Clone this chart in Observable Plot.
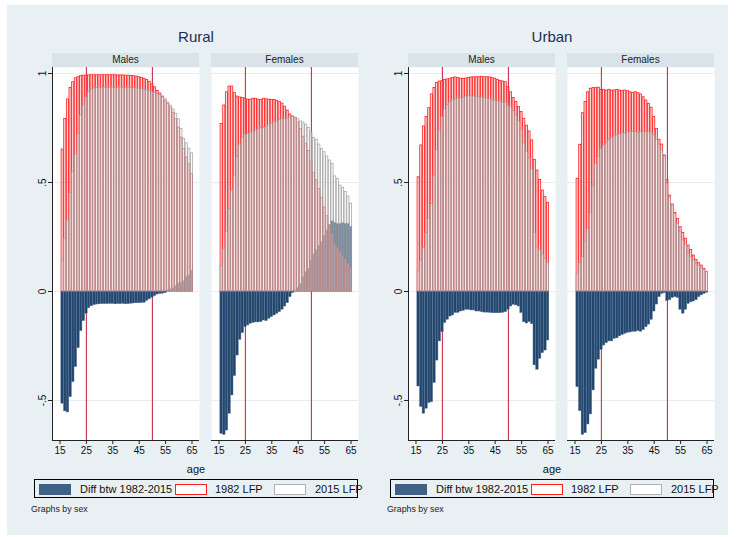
<!DOCTYPE html>
<html><head><meta charset="utf-8">
<script src="https://cdn.jsdelivr.net/npm/d3@7"></script>
<script src="https://cdn.jsdelivr.net/npm/@observablehq/plot@0.6"></script>
<style>
body{margin:0;background:#fff;font-family:"Liberation Sans",Arial,Helvetica,sans-serif;}
#root{position:relative;width:737px;height:537px;overflow:hidden;}
.bg{position:absolute;left:7px;top:5px;width:721px;height:530px;background:#e9f0f3;}
.abs{position:absolute;}
.title{font-size:15px;color:#1e2f4f;text-align:center;width:200px;height:18px;line-height:18px;}
.strip{background:#d8e4ea;font-size:10px;color:#222;text-align:center;height:14px;line-height:14px;width:147px;}
.xl{font-size:11px;color:#111;text-align:center;width:100px;height:16px;line-height:16px;}
.leg{border:1px solid #000;height:19px;width:324px;box-sizing:border-box;}
.sw{position:absolute;top:4px;width:32px;height:11px;box-sizing:border-box;}
.lt{position:absolute;top:1px;font-size:11px;line-height:16px;color:#111;white-space:nowrap;}
.gb{font-size:8.8px;color:#222;}
</style></head>
<body><div id="root"><div class="bg"></div></div>
<script>
const ages = [16,17,18,19,20,21,22,23,24,25,26,27,28,29,30,31,32,33,34,35,36,37,38,39,40,41,42,43,44,45,46,47,48,49,50,51,52,53,54,55,56,57,58,59,60,61,62,63,64,65];
const xTicks = [15,25,35,45,55,65];
const yTicks = [-0.5,0,0.5,1];
const yTickLabels = ["-.5","0",".5","1"];
const refAges = [25,50];
const groupTitles = ["Rural","Urban"];
const sexLabels = ["Males","Females"];
const legendLabels = ["Diff btw 1982-2015","1982 LFP","2015 LFP"];
const xLabel = "age";
const byNote = "Graphs by sex";

const ruralMale1982 = [.651,.792,.881,.934,.960,.978,.983,.988,.990,.990, .991,.992,.992,.992,.992,.992,.992,.992,.992,.992, .992,.991,.991,.991,.990,.990,.989,.988,.986,.983, .980,.976,.970,.962,.950,.937,.920,.908,.894,.875, .860,.843,.820,.790,.752,.706,.653,.615,.584,.538];
const ruralMale2015 = [.139,.242,.326,.451,.547,.628,.723,.807,.853,.891, .914,.926,.931,.933,.934,.935,.935,.934,.935,.935, .934,.935,.935,.934,.934,.934,.934,.933,.932,.930, .928,.926,.922,.920,.914,.911,.906,.900,.890,.882, .866,.852,.835,.815,.790,.746,.700,.680,.655,.634];
const ruralMaleDiff = [-.515,-.550,-.555,-.485,-.416,-.347,-.260,-.182,-.136,-.102, -.077,-.068,-.063,-.060,-.059,-.058,-.058,-.058,-.057,-.057, -.059,-.058,-.058,-.057,-.059,-.058,-.056,-.055,-.054,-.054, -.053,-.052,-.043,-.036,-.028,-.021,-.014,-.011,-.010,-.008, .005,.010,.015,.027,.038,.040,.047,.066,.073,.096];

const ruralFemale1982 = [.769,.853,.914,.940,.940,.910,.894,.890,.888,.884, .880,.880,.884,.884,.880,.878,.884,.882,.880,.878, .878,.875,.870,.862,.848,.830,.812,.803,.795,.775, .745,.710,.676,.645,.595,.545,.510,.470,.430,.385, .345,.300,.262,.215,.200,.178,.162,.145,.126,.106];
const ruralFemale2015 = [.115,.196,.272,.379,.463,.532,.616,.674,.705,.720, .723,.727,.733,.738,.744,.749,.750,.756,.765,.771, .775,.780,.787,.790,.790,.793,.798,.801,.798,.790, .780,.775,.765,.750,.730,.705,.696,.674,.654,.639, .619,.601,.586,.528,.517,.486,.476,.456,.436,.403];
const ruralFemaleDiff = [-.653,-.658,-.638,-.561,-.477,-.388,-.294,-.222,-.191,-.164, -.156,-.148,-.144,-.142,-.142,-.140,-.133,-.136,-.125,-.118, -.110,-.102,-.095,-.084,-.069,-.054,-.026,-.008,.003,.017, .035,.066,.089,.104,.142,.170,.190,.210,.228,.255, .280,.305,.322,.315,.310,.310,.313,.310,.310,.297];

const urbanMale1982 = [.524,.670,.757,.800,.841,.904,.934,.957,.963,.965, .971,.973,.976,.979,.982,.979,.976,.976,.977,.979, .982,.982,.983,.983,.985,.983,.983,.982,.979,.976, .971,.966,.963,.960,.937,.914,.887,.869,.846,.823, .792,.761,.734,.693,.604,.555,.512,.463,.433,.407];
const urbanMale2015 = [.093,.142,.200,.268,.333,.402,.532,.647,.739,.800, .835,.855,.868,.876,.883,.884,.886,.889,.894,.897, .896,.894,.892,.891,.890,.888,.886,.884,.879,.876, .872,.868,.866,.866,.852,.845,.828,.807,.780,.740, .680,.640,.610,.560,.268,.203,.190,.170,.150,.130];
const urbanMaleDiff = [-.436,-.530,-.561,-.538,-.512,-.508,-.420,-.317,-.229,-.187, -.145,-.130,-.115,-.110,-.099,-.098,-.092,-.089,-.084,-.084, -.087,-.087,-.092,-.092,-.095,-.097,-.097,-.098,-.100,-.100, -.100,-.100,-.098,-.095,-.084,-.069,-.061,-.064,-.069,-.099, -.141,-.147,-.141,-.150,-.339,-.359,-.309,-.283,-.271,-.225];

const urbanFemale1982 = [.517,.673,.818,.869,.914,.930,.933,.933,.935,.925, .925,.922,.925,.922,.922,.925,.922,.919,.922,.919, .914,.910,.914,.910,.904,.891,.876,.861,.843,.800, .746,.696,.674,.624,.512,.440,.399,.361,.333,.295, .268,.242,.211,.191,.165,.145,.130,.119,.104,.089];
const urbanFemale2015 = [.078,.130,.157,.226,.288,.361,.482,.586,.616,.654, .670,.680,.696,.703,.711,.716,.723,.725,.725,.731, .731,.731,.731,.727,.731,.731,.731,.731,.727,.716, .696,.674,.647,.616,.494,.430,.394,.356,.311,.272, .234,.216,.173,.157,.142,.127,.119,.108,.099,.089];
const urbanFemaleDiff = [-.439,-.549,-.658,-.650,-.610,-.564,-.454,-.355,-.313,-.268, -.248,-.237,-.229,-.229,-.217,-.215,-.206,-.200,-.194,-.190, -.188,-.185,-.185,-.182,-.185,-.177,-.164,-.152,-.130,-.092, -.060,-.026,-.011,-.008,-.044,-.040,-.030,-.026,-.030,-.084, -.102,-.084,-.057,-.050,-.046,-.040,-.026,-.018,-.011,-.006];

const panels = [
  [[ruralMale1982, ruralMale2015, ruralMaleDiff], [ruralFemale1982, ruralFemale2015, ruralFemaleDiff]],
  [[urbanMale1982, urbanMale2015, urbanMaleDiff], [urbanFemale1982, urbanFemale2015, urbanFemaleDiff]]
];

// layout
const xDomain = [12.16, 67.84];
const yDomain = [-0.6835, 1.0275];
const PW = 147, PH = 373, PTOP = 67;
const groupLeft = [52, 408];
const panelGap = 12;
const yAxisMargin = 30;
const groupCenter = [196, 552];
const legendLeft = [34, 390];
const halfBar = 0.4;
const C = {navy:"#22466d", navyEdge:"#5b7a99", red:"#ff2020", pink:"#f4a6a6", gray:"#9a9a9a", xline:"#c8304e", grid:"#e4ecef", axis:"#222"};

const root = document.getElementById("root");
function addDiv(cls, left, top, text, extra) {
  const d = document.createElement("div");
  d.className = "abs " + cls;
  d.style.left = left + "px"; d.style.top = top + "px";
  if (text != null) d.textContent = text;
  if (extra) Object.assign(d.style, extra);
  root.appendChild(d);
  return d;
}

function panel(series, showY) {
  const [v82, v15, vd] = series;
  const rows = ages.map((a, i) => ({age: a, p82: v82[i], p15: v15[i], diff: vd[i]}));
  const ml = showY ? yAxisMargin : 0;
  return Plot.plot({
    width: ml + PW, height: PH + 22,
    marginLeft: ml, marginRight: 0, marginTop: 0, marginBottom: 22,
    x: {domain: xDomain},
    y: {domain: yDomain, axis: showY ? undefined : null},
    style: {background: "transparent", fontFamily: "'Liberation Sans', Arial, sans-serif", fontSize: "10px", color: "#111", overflow: "visible"},
    marks: [
      Plot.frame({fill: "white", stroke: null}),
      Plot.gridY(yTicks, {stroke: C.grid, strokeOpacity: 1, strokeWidth: 1}),
      Plot.ruleX(refAges, {stroke: C.xline, strokeWidth: 1.1}),
      Plot.rect(rows, {x1: d => d.age - 0.5, x2: d => d.age + 0.5, y1: d => 0, y2: "diff", fill: C.navy, stroke: C.navyEdge, strokeWidth: 0.4}),
      Plot.rect(rows, {x1: d => d.age - halfBar, x2: d => d.age + halfBar, y1: d => 0, y2: "p82", fill: C.pink, fillOpacity: 0.4, stroke: C.red, strokeWidth: 0.8}),
      Plot.rect(rows, {x1: d => d.age - halfBar, x2: d => d.age + halfBar, y1: d => 0, y2: "p15", fill: "#ffffff", fillOpacity: 0.38, stroke: C.gray, strokeWidth: 0.8, strokeOpacity: 0.85}),
      Plot.ruleY([yDomain[0]], {stroke: C.axis, strokeWidth: 1}),
      Plot.axisX(xTicks, {tickSize: 4, tickPadding: 2, fontSize: 10, label: null, stroke: C.axis}),
      showY ? Plot.ruleX([xDomain[0]], {stroke: C.axis, strokeWidth: 1}) : null,
      showY ? Plot.axisY(yTicks, {tickSize: 4, tickPadding: 3, tickRotate: -90, fontSize: 10, label: null, stroke: C.axis,
        tickFormat: d => yTickLabels[yTicks.indexOf(d)]}) : null
    ]
  });
}

groupTitles.forEach((g, gi) => {
  addDiv("title", groupCenter[gi] - 100, 28, g);
  sexLabels.forEach((s, si) => {
    const left = groupLeft[gi] + si * (PW + panelGap);
    addDiv("strip", left, 53, s);
    const showY = si === 0;
    const svg = panel(panels[gi][si], showY);
    const holder = addDiv("", left - (showY ? yAxisMargin : 0), PTOP, null);
    holder.appendChild(svg);
  });
  addDiv("xl", groupCenter[gi] - 50, 461, xLabel);
  const lg = addDiv("leg", legendLeft[gi], 479, null);
  const swLeft = [4, 140, 239], txLeft = [45, 180, 280];
  const swStyle = [
    {background: "#3f6186", border: "1px solid #3f6186"},
    {background: "#fff", border: "1px solid " + C.red},
    {background: "#fff", border: "1px solid #b0b0b0"}
  ];
  legendLabels.forEach((t, i) => {
    const sw = document.createElement("div");
    sw.className = "sw"; sw.style.left = swLeft[i] + "px";
    Object.assign(sw.style, swStyle[i]);
    lg.appendChild(sw);
    const tx = document.createElement("div");
    tx.className = "lt"; tx.style.left = txLeft[i] + "px"; tx.textContent = t;
    lg.appendChild(tx);
  });
  addDiv("gb", legendLeft[gi] - 3, 504, byNote);
});
</script>
</body></html>
